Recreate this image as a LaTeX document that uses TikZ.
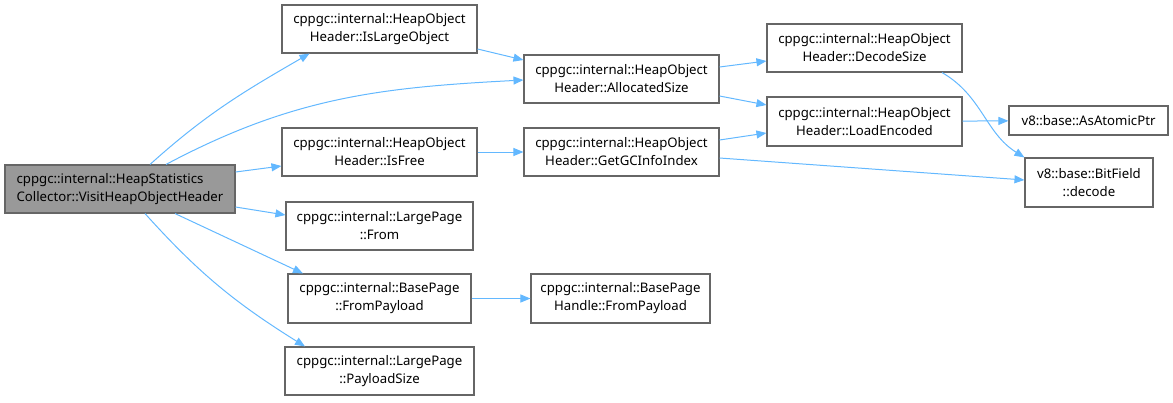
\documentclass[tikz,border=0pt]{standalone}
\usepackage{fontspec}
\setmainfont{Noto Sans}
\usetikzlibrary{arrows.meta}
\definecolor{edgeblue}{HTML}{63B8FF}
\definecolor{boxgray}{HTML}{666666}
\definecolor{rootgray}{HTML}{999999}

\begin{document}
\begin{tikzpicture}[
    x=1pt, y=-1pt,
    fn/.style={rectangle, draw=boxgray, line width=1.1pt, fill=white, align=center, inner sep=0pt,
        minimum height=48pt, font=\fontsize{13.2}{18}\selectfont},
    rootfn/.style={fn, fill=rootgray, align=left},
    call/.style={-{Triangle[length=10pt,width=8pt]}, draw=edgeblue, line width=1pt}
]
    \useasboundingbox (0,0) rectangle (1173,402);

    % Nodes
    \node[rootfn, minimum width=230pt] (visit) at (120,189) {cppgc::internal::HeapStatistics\\Collector::VisitHeapObjectHeader};
    \node[fn, minimum width=195pt] (isLarge) at (379.5,29) {cppgc::internal::HeapObject\\Header::IsLargeObject};
    \node[fn, minimum width=195pt] (isFree) at (379.5,152) {cppgc::internal::HeapObject\\Header::IsFree};
    \node[fn, minimum width=187pt] (lpFrom) at (379.5,226) {cppgc::internal::LargePage\\::From};
    \node[fn, minimum width=183pt, minimum height=49pt] (bpFrom) at (379.5,298.5) {cppgc::internal::BasePage\\::FromPayload};
    \node[fn, minimum width=189pt] (lpSize) at (379.5,371) {cppgc::internal::LargePage\\::PayloadSize};
    \node[fn, minimum width=195pt] (allocSize) at (621.5,79) {cppgc::internal::HeapObject\\Header::AllocatedSize};
    \node[fn, minimum width=195pt] (gcInfo) at (621.5,152) {cppgc::internal::HeapObject\\Header::GetGCInfoIndex};
    \node[fn, minimum width=179pt, minimum height=49pt] (bphFrom) at (620.5,298.5) {cppgc::internal::BasePage\\Handle::FromPayload};
    \node[fn, minimum width=195pt] (decodeSize) at (864.5,48) {cppgc::internal::HeapObject\\Header::DecodeSize};
    \node[fn, minimum width=195pt, minimum height=49pt] (loadEnc) at (864.5,121.5) {cppgc::internal::HeapObject\\Header::LoadEncoded};
    \node[fn, minimum width=159pt, minimum height=29pt] (atomic) at (1088.5,120.5) {v8::base::AsAtomicPtr};
    \node[fn, minimum width=128pt, minimum height=49pt] (bitField) at (1089,182.5) {v8::base::BitField\\::decode};

    % Calls from the root
    \draw[call] ([xshift=30pt]visit.north) to[out=42, in=210] ([xshift=-70pt]isLarge.south);
    \draw[call] ([xshift=46pt]visit.north) to[out=28, in=183] ([yshift=-1pt]allocSize.west);
    \draw[call] ([yshift=17pt]visit.east) -- ([yshift=-14pt]isFree.west);
    \draw[call] ([yshift=-18pt]visit.east) -- ([yshift=11pt]lpFrom.west);
    \draw[call] ([xshift=55pt]visit.south) -- ([xshift=-76.5pt]bpFrom.north);
    \draw[call] ([xshift=25pt]visit.south) to[out=-48, in=148] ([xshift=-74.5pt]lpSize.north);

    % Further calls
    \draw[call] ([yshift=-20pt]isLarge.east) -- ([yshift=19pt]allocSize.west);
    \draw[call] (isFree) -- (gcInfo);
    \draw[call] (bpFrom) -- (bphFrom);
    \draw[call] ([yshift=12pt]allocSize.east) -- ([yshift=-13pt]decodeSize.west);
    \draw[call] ([yshift=-17pt]allocSize.east) -- ([yshift=16.5pt]loadEnc.west);
    \draw[call] ([yshift=12pt]gcInfo.east) -- ([yshift=-11.5pt]loadEnc.west);
    \draw[call] ([yshift=-6pt]gcInfo.east) -- ([yshift=2.5pt]bitField.west);
    \draw[call] (loadEnc) -- (atomic);
    \draw[call] ([xshift=77.5pt]decodeSize.south) to[out=-30, in=148] (bitField.north west);
\end{tikzpicture}
\end{document}
